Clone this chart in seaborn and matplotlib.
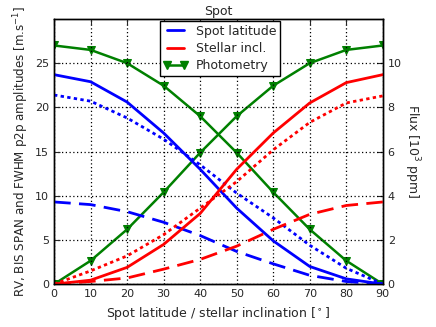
import numpy as np
import pandas as pd
import matplotlib
matplotlib.use("Agg")
import matplotlib.pyplot as plt
import seaborn as sns
from matplotlib.lines import Line2D

# ── data ──────────────────────────────────────────────────────
angle = [0, 10, 20, 30, 40, 50, 60, 70, 80, 90]

# spot latitude (blue)
lat_rv   = [23.7, 22.9, 20.6, 17.1, 13.0, 8.6, 4.9, 2.0, 0.6, 0.0]
lat_bis  = [9.3, 9.0, 8.2, 7.0, 5.5, 3.7, 2.3, 1.0, 0.3, 0.0]
lat_fwhm = [21.4, 20.7, 18.8, 16.4, 13.5, 10.3, 7.5, 4.4, 1.8, 0.0]
lat_phot = [10.8, 10.6, 10.0, 8.98, 7.6, 5.95, 4.16, 2.48, 1.06, 0.0]

# stellar inclination (red)
inc_rv   = [0.0, 0.45, 1.9, 4.5, 8.0, 13.0, 17.1, 20.5, 22.8, 23.7]
inc_bis  = [0.0, 0.3, 0.7, 1.7, 2.8, 4.3, 6.2, 7.9, 8.9, 9.3]
inc_fwhm = [0.0, 1.5, 3.2, 5.6, 8.6, 11.6, 15.2, 18.3, 20.5, 21.3]
inc_phot = [0.0, 1.06, 2.48, 4.16, 5.95, 7.6, 8.98, 10.0, 10.6, 10.8]

sns.set_style("white")
plt.rcParams.update({
    "font.family": ["DejaVu Sans"],
    "xtick.direction": "in", "ytick.direction": "in",
    "xtick.top": True, "xtick.major.size": 4, "ytick.major.size": 4,
    "axes.edgecolor": "black", "axes.linewidth": 1.0,
    "xtick.labelsize": 8, "ytick.labelsize": 8,
})

fig = plt.figure(figsize=(4.36, 3.27), dpi=100)
ax = fig.add_axes([0.124, 0.131, 0.754, 0.811])
ax2 = ax.twinx()

dashes = [None, (6, 3), (1.2, 1.2)]
for vals, col in [((lat_rv, lat_bis, lat_fwhm), "blue"),
                  ((inc_rv, inc_bis, inc_fwhm), "red")]:
    for v, d in zip(vals, dashes):
        sns.lineplot(x=angle, y=v, ax=ax, color=col, lw=2)
        if d is not None:
            ax.lines[-1].set_dashes(d)

for v in (lat_phot, inc_phot):
    sns.lineplot(x=angle, y=v, ax=ax2, color="green", lw=1.8,
                 marker="v", markersize=5.5, markeredgecolor="green")

ax.set_xlim(0, 90)
ax.set_ylim(0, 30)
ax.set_xticks(angle)
ax.set_yticks([0, 5, 10, 15, 20, 25])
ax2.set_ylim(0, 12)
ax2.set_yticks([0, 2, 4, 6, 8, 10])
ax2.tick_params(direction="in", length=4)
ax.grid(True, color="black", linestyle=(0, (1, 2)), linewidth=0.9)

ax.set_xlabel("Spot latitude / stellar inclination [$^\\circ$]", fontsize=9)
ax.set_ylabel("RV, BIS SPAN and FWHM p2p amplitudes [m.s$^{-1}$]",
              fontsize=8.6, labelpad=3)
ax2.set_ylabel("Flux [10$^3$ ppm]", fontsize=9, rotation=270, labelpad=14)
ax.set_title("Spot", fontsize=9, pad=3)

handles = [Line2D([], [], color="blue", lw=2),
           Line2D([], [], color="red", lw=2),
           Line2D([], [], color="green", lw=1.8, marker="v", markersize=5.5)]
leg = ax.legend(handles, ["Spot latitude", "Stellar incl.", "Photometry"],
                loc="upper center", bbox_to_anchor=(0.505, 1.0), fontsize=9,
                frameon=True, fancybox=False, edgecolor="black",
                framealpha=1, borderaxespad=0.15, handlelength=1.9,
                labelspacing=0.35, borderpad=0.3, numpoints=2,
                handletextpad=0.7)
leg.get_frame().set_linewidth(1.0)
leg.set_zorder(10)
ax.set_zorder(ax2.get_zorder() + 1)
ax.patch.set_visible(False)

fig.savefig("out.png", dpi=100)
